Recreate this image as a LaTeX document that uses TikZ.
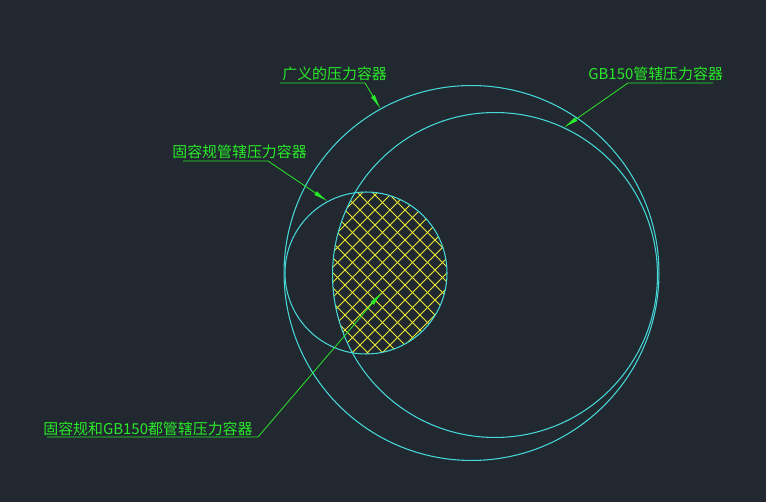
\documentclass[tikz,border=0pt]{standalone}
\usepackage{fontspec}
\newfontfamily\cjk{Noto Sans CJK SC}
\usetikzlibrary{arrows.meta}
\definecolor{bg}{RGB}{33,40,48}
\definecolor{cadcyan}{RGB}{70,215,215}
\definecolor{cadgreen}{RGB}{40,235,40}
\definecolor{cadyellow}{RGB}{235,235,50}
\tikzset{
    ring/.style={draw=cadcyan, circle, inner sep=0pt, outer sep=0pt, line width=0.6pt},
    tag/.style={text=cadgreen, font=\cjk\fontsize{8.5}{10}\selectfont, inner sep=0pt, anchor=base west},
    leader/.style={draw=cadgreen, line width=0.45pt, -{Latex[length=0.3cm, width=0.09cm]}},
}
\begin{document}
\begin{tikzpicture}[x=0.02cm, y=-0.02cm]
        \fill[bg] (0,0) rectangle (766,502);
        \useasboundingbox (0,0) rectangle (766,502);

        % hatch of the common part
        \begin{scope}
            \clip (366,273) circle[radius=1.62cm];
            \clip (495,275) circle[radius=3.25cm];
            \foreach \c in {-60,-45,...,300} {
                \draw[cadyellow, line width=0.45pt] (\c+180,180) -- (\c+380,380);
            }
            \foreach \d in {495,510,...,840} {
                \draw[cadyellow, line width=0.45pt] (\d-180,180) -- (\d-380,380);
            }
        \end{scope}

        \node[ring, minimum size=7.5cm]  (all) at (471.5,273) {};
        \node[ring, minimum size=6.5cm]  (gb)  at (495,275)   {};
        \node[ring, minimum size=3.24cm] (gr)  at (366,273)   {};
        \coordinate (core) at (382,292);

        \node[tag] (tall)  at (282,80)  {广义的压力容器};
        \node[tag] (tgb)   at (588,80)  {GB150管辖压力容器};
        \node[tag] (tgr)   at (172,158) {固容规管辖压力容器};
        \node[tag] (tcore) at (43,434)  {固容规和GB150都管辖压力容器};

        \coordinate (uall)  at (280,83);  \coordinate (kall)  at (365,83);
        \coordinate (ugb)   at (713,83);  \coordinate (kgb)   at (628,83);
        \coordinate (ugr)   at (183,161); \coordinate (kgr)   at (268,161);
        \coordinate (ucore) at (47,437);  \coordinate (kcore) at (258,437);

        \draw [leader] (uall)  -- (kall)  -- (all.119.5);
        \draw [leader] (ugb)   -- (kgb)   -- (gb.65.8);
        \draw [leader] (ugr)   -- (kgr)   -- (gr.118);
        \draw [leader] (ucore) -- (kcore) -- (core);
    \end{tikzpicture}
\end{document}
